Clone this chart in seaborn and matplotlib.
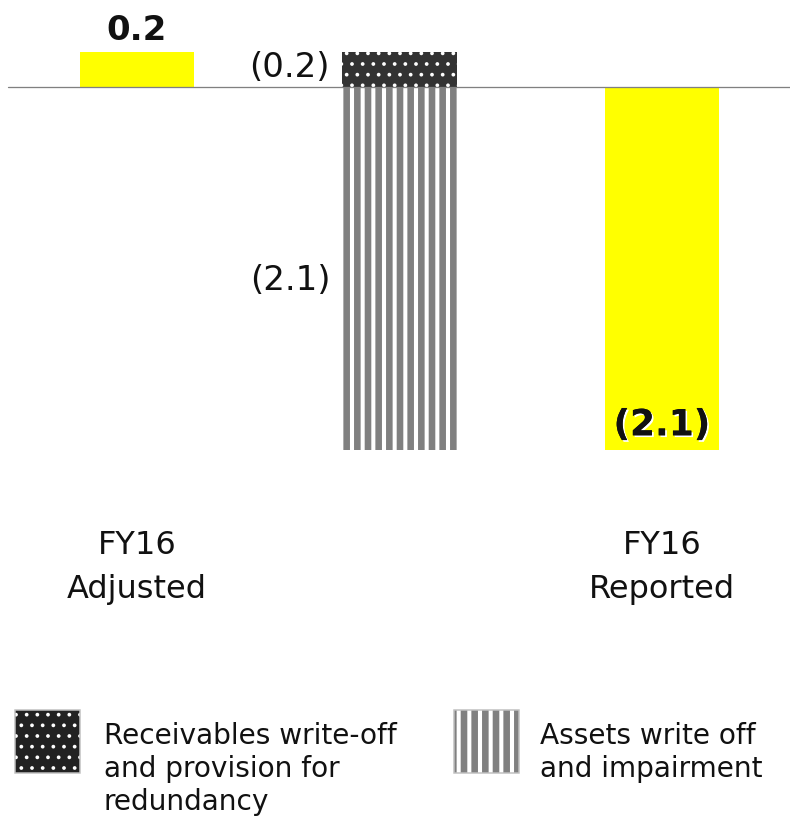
import matplotlib
matplotlib.use("Agg")
import matplotlib.pyplot as plt
import matplotlib.patheffects as pe
from matplotlib.patches import Rectangle
import seaborn as sns
import pandas as pd

# ---------------- data ----------------
categories = ["FY16\nAdjusted", "Bridge", "FY16\nReported"]
category_labels = ["FY16\nAdjusted", "", "FY16\nReported"]
step_names = ["FY16 Adjusted",
              "Receivables write-off and provision for redundancy",
              "Assets write off and impairment",
              "FY16 Reported"]
step_category = ["FY16\nAdjusted", "Bridge", "Bridge", "FY16\nReported"]
step_values = [0.2, -0.2, -2.1, -2.1]
step_kind = ["total", "delta", "delta", "total"]
value_labels = ["0.2", "(0.2)", "(2.1)", "(2.1)"]
legend_labels = ["Receivables write-off\nand provision for\nredundancy",
                 "Assets write off\nand impairment"]

# ---------------- styles ----------------
DPI = 64
W, H = 790, 820
def pt(px):
    return px * 72.0 / DPI

YELLOW = "#FFFF00"
DARK = "#333333"
GREY = "#808080"
styles = [
    dict(face=YELLOW, hatch=None, hcolor=None, hlw=None),
    dict(face=DARK, hatch=".", hcolor="white", hlw=pt(1.6)),
    dict(face="white", hatch="|", hcolor=GREY, hlw=pt(6.6)),
    dict(face=YELLOW, hatch=None, hcolor=None, hlw=None),
]
# label placement: (kind, font px, bold, dx px, dy px)
label_style = [
    ("above", 34, True, 0, 12),
    ("left", 34, False, -12, -7.5),
    ("left", 34, False, -11, -21.5),
    ("inside_bottom", 36, True, 0, 15),
]

sns.set_style("white")
plt.rcParams["font.family"] = ["DejaVu Sans"]

fig = plt.figure(figsize=(W / DPI, H / DPI), dpi=DPI)
ax = fig.add_axes([0, 0, 1, 1])

# waterfall bottoms from running total
bottoms = []
running = 0.0
for v, k in zip(step_values, step_kind):
    if k == "total":
        bottoms.append(0.0)
        running = v
    else:
        bottoms.append(running)
        running = running + v

df = pd.DataFrame({"category": step_category, "value": step_values,
                   "bottom": bottoms, "name": step_names})

BAR_W = 0.438
for i, row in df.iterrows():
    st = styles[i]
    n0 = len(ax.patches)
    kws = dict(linewidth=0)
    if st["hatch"]:
        kws.update(hatch=st["hatch"], edgecolor=st["hcolor"])
        plt.rcParams["hatch.linewidth"] = st["hlw"]
    sns.barplot(x=[row["category"]], y=[row["value"]], order=categories,
                bottom=row["bottom"], width=BAR_W, color=st["face"],
                saturation=1, errorbar=None, ax=ax, **kws)
    for p in ax.patches[n0:]:
        p.set_facecolor(st["face"])
        if st["hatch"]:
            p.set_edgecolor(st["hcolor"])
            if hasattr(p, "set_hatch_linewidth"):
                p.set_hatch_linewidth(st["hlw"])
        p.set_zorder(2)

# axis limits so that category spacing / value scale matches reference
x_spacing = 262.5  # px per category
y_scale = 173.0    # px per unit
x0_px, y0_px = 137.0, 87.0
ax.set_xlim(-x0_px / x_spacing, (W - x0_px) / x_spacing)
ax.set_ylim(-(H - y0_px) / y_scale, y0_px / y_scale)
ax.set_axis_off()

ax.axhline(0, xmin=8 / W, xmax=1, color="#808080", lw=pt(1.3), zorder=3)

# value labels
for i, row in df.iterrows():
    xi = categories.index(row["category"])
    top = max(row["bottom"], row["bottom"] + row["value"])
    bot = min(row["bottom"], row["bottom"] + row["value"])
    kind, fpx, bold, dx, dy = label_style[i]
    fw = "bold" if bold else "normal"
    if kind == "above":
        ax.annotate(value_labels[i], (xi, top), xytext=(pt(dx), pt(dy)),
                    textcoords="offset points", ha="center", va="baseline",
                    fontsize=pt(fpx), fontweight=fw, color="#111111")
    elif kind == "left":
        ax.annotate(value_labels[i], (xi - BAR_W / 2, (top + bot) / 2),
                    xytext=(pt(dx), pt(dy)), textcoords="offset points",
                    ha="right", va="baseline", fontsize=pt(fpx),
                    fontweight=fw, color="#111111")
    else:
        t = ax.annotate(value_labels[i], (xi, bot), xytext=(pt(dx), pt(dy)),
                        textcoords="offset points", ha="center", va="baseline",
                        fontsize=pt(fpx), fontweight=fw, color="#111111")
        t.set_path_effects([pe.withSimplePatchShadow(offset=(2, -2),
                                                     shadow_rgbFace="white",
                                                     alpha=1.0),
                            pe.Normal()])

# category labels
CAT_FS = 32
for xi, lab in enumerate(category_labels):
    if lab:
        ax.text(xi, 1 - 530 / H, lab, transform=ax.get_xaxis_transform(),
                ha="center", va="top", multialignment="center",
                fontsize=pt(CAT_FS), linespacing=1.54, color="#111111")

# legend (drawn in figure pixel space)
def fx(px):
    return px / W

def fy(py):
    return 1 - py / H

leg_items = [
    dict(box=(15, 710, 65, 63), face="#222222", style=styles[1], text_x=104),
    dict(box=(454, 710, 65, 63), face="white", style=styles[2], text_x=540),
]
LEG_FS = 28
for item, lab in zip(leg_items, legend_labels):
    bx, by, bw, bh = item["box"]
    st = item["style"]
    plt.rcParams["hatch.linewidth"] = st["hlw"]
    r = Rectangle((fx(bx), fy(by + bh)), bw / W, bh / H, transform=fig.transFigure,
                  facecolor=item["face"], edgecolor=st["hcolor"], hatch=st["hatch"],
                  linewidth=0)
    if hasattr(r, "set_hatch_linewidth"):
        r.set_hatch_linewidth(st["hlw"])
    fig.add_artist(r)
    fig.add_artist(Rectangle((fx(bx), fy(by + bh)), bw / W, bh / H,
                             transform=fig.transFigure, facecolor="none",
                             edgecolor="#c0c0c0", linewidth=pt(1.5)))
    fig.text(fx(item["text_x"]), fy(743 - 0.76 * LEG_FS), lab, ha="left", va="top",
             fontsize=pt(LEG_FS), linespacing=1.24, color="#111111")

fig.savefig("out.png", dpi=DPI)
